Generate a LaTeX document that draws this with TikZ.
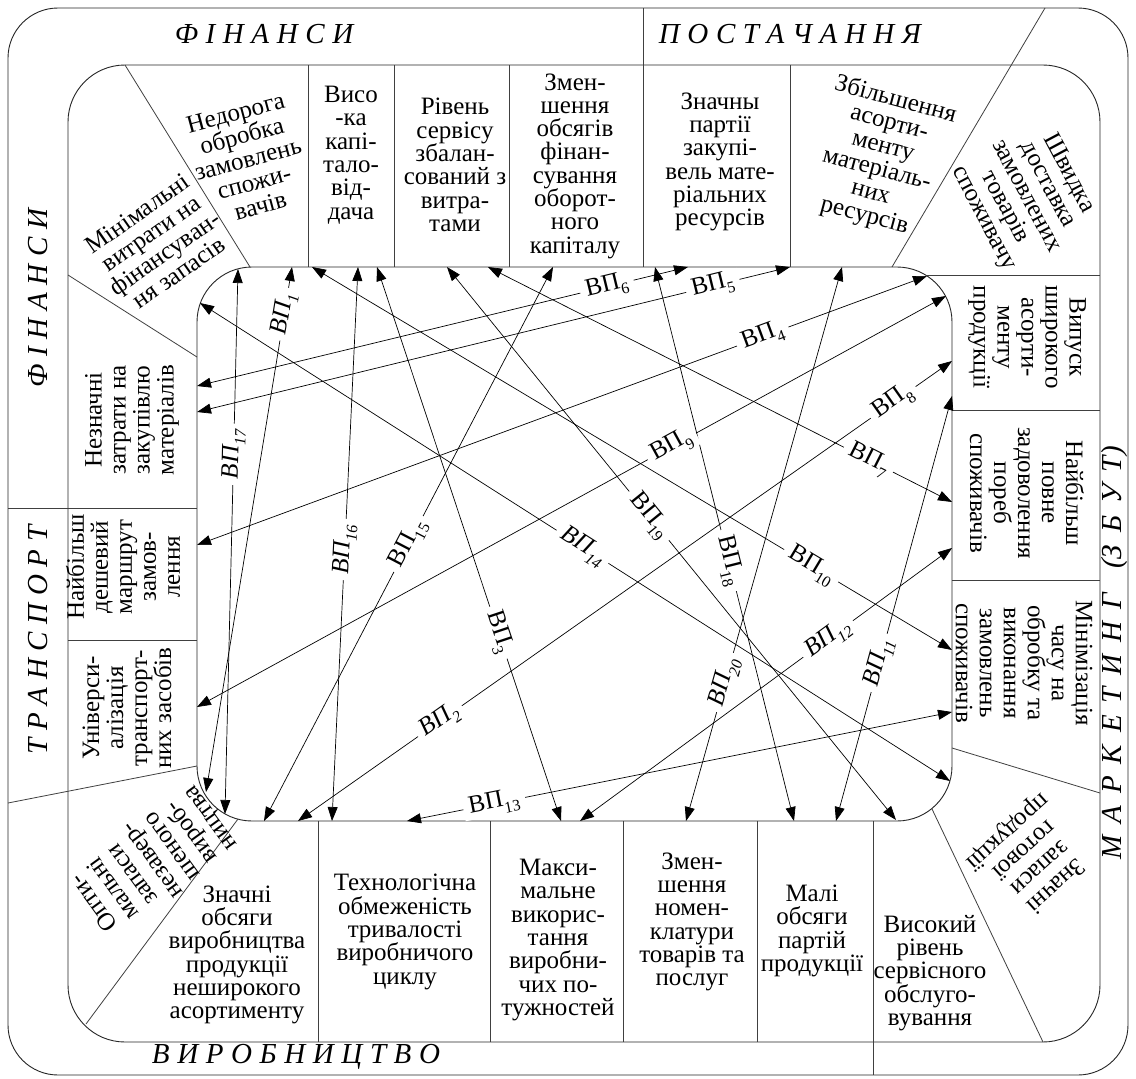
\documentclass[tikz,border=0pt]{standalone}
\usepackage{fontspec}
\setmainfont{Liberation Serif}
\usetikzlibrary{arrows.meta}
\newcommand\vpl[1]{ВП\raisebox{-0.28em}{\fontsize{16}{16}\selectfont #1}}
\newcommand\vpi[1]{\textit{ВП\raisebox{-0.28em}{\fontsize{16}{16}\selectfont #1}}}
\newcommand\bandtxt[1]{\fontsize{29}{29}\selectfont\itshape\spaceskip=7.6pt plus 0pt minus 0pt\relax #1}
\newcommand\bandwide[1]{\fontsize{29}{29}\selectfont\itshape\spaceskip=12pt plus 0pt minus 0pt\relax #1}
\begin{document}
\begin{tikzpicture}[x=1pt,y=-1pt,
  bx/.style={align=center, font=\fontsize{25}{23.3}\selectfont, inner sep=0pt},
  rbx/.style={align=center, font=\fontsize{25}{24}\selectfont, inner sep=0pt},
  band/.style={inner sep=0pt},
  frame/.style={line width=0.9pt, draw=black!85},
  div/.style={line width=0.8pt, draw=black!75},
  arr/.style={line width=0.7pt, {Triangle[length=14pt,width=10pt]}-{Triangle[length=14pt,width=10pt]}},
  lbl/.style={sloped, fill=white, inner xsep=6pt, inner ysep=0pt, font=\fontsize{25}{25}\selectfont}]
\useasboundingbox (0,0) rectangle (1136,1079);
\fill[white] (0,0) rectangle (1136,1079);

% frames
\draw[frame, rounded corners=50pt] (8,8) rectangle (1128,1075);
\draw[frame, rounded corners=57pt] (68,65) rectangle (1100,1042);
\draw[frame, rounded corners=55pt] (197,267) rectangle (952,821);

% band separators
\draw[div] (643,8) -- (643,267);
\draw[div] (1045,8) -- (892,267);
\draw[div] (8,508) -- (197,508);
\draw[div] (8,803) -- (197,766);
\draw[div] (873,821) -- (873,1075);

% top row dividers
\draw[div] (308,65) -- (308,267);
\draw[div] (394,65) -- (394,267);
\draw[div] (509,65) -- (509,267);
\draw[div] (790,65) -- (790,267);
\draw[div] (125,65) -- (250,267);
\draw[div] (68,275) -- (197,357);
% left
\draw[div] (68,640) -- (197,640);
\draw[div] (238,819) -- (86,1024);
% bottom
\draw[div] (318,821) -- (318,1042);
\draw[div] (490,821) -- (490,1042);
\draw[div] (623,821) -- (623,1042);
\draw[div] (757,821) -- (757,1042);
\draw[div] (932,809) -- (1043,1042);
% right
\draw[div] (952,748) -- (1100,793);
\draw[div] (952,580) -- (1100,580);
\draw[div] (952,410) -- (1100,410);
\draw[div] (927,275) -- (1100,275);

% band labels
\node[band] (bF1) at (264,34) {\bandtxt{Ф І Н А Н С И}};
\node[band] (bP) at (790,34) {\bandtxt{П О С Т А Ч А Н Н Я}};
\node[band, rotate=90] (bF2) at (38,298) {\bandtxt{Ф І Н А Н С И}};
\node[band, rotate=90] (bT) at (38,640) {\bandtxt{Т Р А Н С П О Р Т}};
\node[band, rotate=90] (bM) at (1115,653) {\bandwide{М А Р К Е Т И Н Г \ (З Б У Т)}};
\node[band] (bV) at (296,1057) {\bandtxt{В И Р О Б Н И Ц Т В О}};

% top boxes
\node[bx] (nvys) at (351,155) {Висо\\-ка\\капі-\\тало-\\від-\\дача};
\node[bx] (nriv) at (455,165) {Рівень\\сервісу\\збалан-\\сований з\\витра-\\тами};
\node[bx] (nzmen) at (575,166) {Змен-\\шення\\обсягів\\фінан-\\сування\\оборот-\\ного\\капіталу};
\node[bx] (nznach) at (720,162) {Значны\\партії\\закупі-\\вель мате-\\ріальних\\ресурсів};
\node[rbx, rotate=-15] (nzbil) at (880,158) {Збільшення\\асорти-\\менту\\матеріаль-\\них\\ресурсів};
\node[rbx, rotate=-62] (nshv) at (1026,196) {Швидка\\доставка\\замовлених\\товарів\\споживачу};
\node[rbx, rotate=15] (nnedor) at (248,159) {Недорога\\обробка\\замовлень\\спожи-\\вачів};
\node[rbx, rotate=35] (nminv) at (158,243) {Мінімальні\\витрати на\\фінансуван-\\ня запасів};

% left boxes
\node[rbx, rotate=90] (nnezn) at (132,420) {Незначні\\затрати на\\закупівлю\\матеріалів};
\node[rbx, rotate=90] (nnayb) at (123,567) {Найбільш\\дешевий\\маршрут\\замов-\\лення};
\node[rbx, rotate=90] (nuniv) at (127,708) {Універси-\\алізація\\транспорт-\\них засобів};

% right boxes
\node[rbx, rotate=-90] (nvyp) at (1027,337) {Випуск\\широкого\\асорти-\\менту\\продукції};
\node[rbx, rotate=-90] (nnaypov) at (1027,493) {Найбільш\\повне\\задоволення\\пореб\\споживачів};
\node[rbx, rotate=-90] (nminch) at (1024,663) {Мінімізація\\часу на\\обробку та\\виконання\\замовлень\\споживачів};

% bottom boxes
\node[bx] (nznob) at (237,955) {Значні\\обсяги\\виробництва\\продукції\\неширокого\\асортименту};
\node[bx] (ntech) at (405,932) {Технологічна\\обмеженість\\тривалості\\виробничого\\циклу};
\node[bx] (nmaks) at (558,940) {Макси-\\мальне\\викорис-\\тання\\виробни-\\чих по-\\тужностей};
\node[bx] (nzmnom) at (692,922) {Змен-\\шення\\номен-\\клатури\\товарів та\\послуг};
\node[bx] (nmali) at (812,931) {Малі\\обсяги\\партій\\продукції};
\node[bx] (nvys2) at (930,973) {Високий\\рівень\\сервісного\\обслуго-\\вування};
\node[rbx, rotate=-138] (nzap) at (1031,858) {Значні\\запаси\\готової\\продукції};
\node[rbx, rotate=126] (nopt) at (153,860) {Опти-\\мальні\\запаси\\незавер-\\шеного\\вироб-\\ництва};

% arrow end points
\coordinate (t17) at (238,269);
\coordinate (t1) at (292,267);
\coordinate (t10) at (312,267);
\coordinate (t16) at (358,267);
\coordinate (t3) at (377,267);
\coordinate (t19) at (447,267);
\coordinate (t7) at (488,267);
\coordinate (t15) at (553,267);
\coordinate (t18) at (655,267);
\coordinate (t6) at (688,267);
\coordinate (t5) at (790,267);
\coordinate (t20) at (842,267);
\coordinate (t4) at (927,276);
\coordinate (t9) at (946,296);
\coordinate (r2) at (952,361);
\coordinate (r11) at (952,396);
\coordinate (r7) at (952,502);
\coordinate (r12) at (952,548);
\coordinate (r10) at (952,650);
\coordinate (r13) at (952,712);
\coordinate (r14) at (950,781);
\coordinate (b1) at (206,792);
\coordinate (b17) at (225,814);
\coordinate (b15) at (264,821);
\coordinate (b2) at (298,821);
\coordinate (b16) at (332,821);
\coordinate (b13) at (407,821);
\coordinate (b3) at (561,821);
\coordinate (b12) at (580,821);
\coordinate (b20) at (686,821);
\coordinate (b18) at (794,821);
\coordinate (b11) at (836,821);
\coordinate (b19) at (896,820);
\coordinate (l14) at (200,303);
\coordinate (l6) at (197,386);
\coordinate (l5) at (197,412);
\coordinate (l4) at (197,545);
\coordinate (l9) at (197,707);

% arrows
\draw[arr] (t1) -- node[lbl,pos=0.09] {\vpi{1}} (b1);
\draw[arr] (t17) -- node[lbl,pos=0.34] {\vpi{17}} (b17);
\draw[arr] (t16) -- node[lbl,pos=0.51] {\vpi{16}} (b16);
\draw[arr] (t15) -- node[lbl,pos=0.50] {\vpl{15}} (b15);
\draw[arr] (t3) -- node[lbl,pos=0.66] {\vpl{3}} (b3);
\draw[arr] (t19) -- node[lbl,pos=0.45] {\vpl{19}} (b19);
\draw[arr] (t7) -- node[lbl,pos=0.82] {\vpl{7}} (r7);
\draw[arr] (t18) -- node[lbl,pos=0.53] {\vpl{18}} (b18);
\draw[arr] (l6) -- node[lbl,pos=0.835] {\vpl{6}} (t6);
\draw[arr] (l5) -- node[lbl,pos=0.87] {\vpl{5}} (t5);
\draw[arr] (t20) -- node[lbl,pos=0.75] {\vpi{20}} (b20);
\draw[arr] (l4) -- node[lbl,pos=0.775] {\vpl{4}} (t4);
\draw[arr] (l9) -- node[lbl,pos=0.634] {\vpl{9}} (t9);
\draw[arr] (t10) -- node[lbl,pos=0.78] {\vpl{10}} (r10);
\draw[arr] (b2) -- node[lbl,pos=0.217] {\vpi{2}} node[lbl,pos=0.91] {\vpl{8}} (r2);
\draw[arr] (b11) -- node[lbl,pos=0.372] {\vpi{11}} (r11);
\draw[arr] (b12) -- node[lbl,pos=0.667] {\vpi{12}} (r12);
\draw[arr] (b13) -- node[lbl,pos=0.16] {\vpl{13}} (r13);
\draw[arr] (l14) -- node[lbl,pos=0.51] {\vpi{14}} (r14);
\end{tikzpicture}
\end{document}
